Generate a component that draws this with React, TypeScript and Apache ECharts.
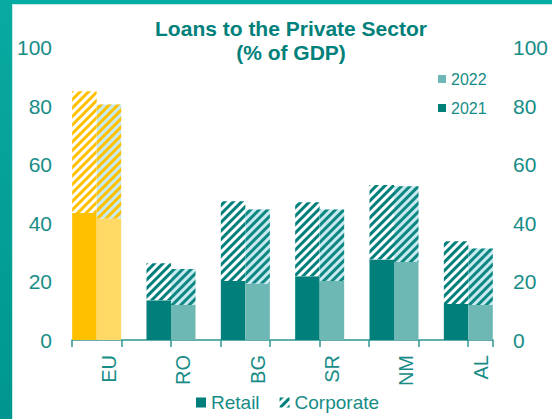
import React, { useEffect, useRef } from "react";
import * as echarts from "echarts";

const categories = ["EU", "RO", "BG", "SR", "NM", "AL"];
const retail2021 = [43.4, 13.6, 20.2, 21.8, 27.5, 12.3];
const corporate2021 = [41.6, 12.6, 27.2, 25.3, 25.5, 21.5];
const retail2022 = [41.5, 12.0, 19.3, 20.2, 26.7, 12.0];
const corporate2022 = [39.0, 12.3, 25.3, 24.4, 25.9, 19.3];
const yTicks = [0, 20, 40, 60, 80, 100];

const TEAL = "#007F7B";
const TEAL_LIGHT = "#6DB8B4";
const CYAN_BG = "#C6EAF0";
const YELLOW = "#FFC000";
const YELLOW_LIGHT = "#FFD966";
const TEXT = "#178C87";
const FONT = "'Liberation Sans', Arial, sans-serif";

const stripe = (c: string) => ({
  symbol: "rect",
  symbolSize: 1,
  symbolKeepAspect: false,
  dashArrayX: [1, 0],
  dashArrayY: [2.3, 2.2],
  rotation: -Math.PI / 4,
  color: c,
});

export default function App() {
  const ref = useRef<HTMLDivElement>(null);
  useEffect(() => {
    if (!ref.current) return;
    const chart = echarts.init(ref.current, null, { renderer: "svg" });
    const gTop = 47.5;
    const gBottom = 79;
    const retailItems = (vals: number[], eu: string) =>
      vals.map((v, i) => (i === 0 ? { value: v, itemStyle: { color: eu } } : v));
    const corpItems = (vals: number[], bg: string) =>
      vals.map((v, i) =>
        i === 0 ? { value: v, itemStyle: { color: bg, decal: stripe(YELLOW) } } : v
      );
    chart.setOption({
      animation: false,
      backgroundColor: "#ffffff",
      textStyle: { fontFamily: FONT },
      title: {
        text: "Loans to the Private Sector\n(% of GDP)",
        left: 291,
        top: 16,
        padding: 0,
        textAlign: "center",
        textStyle: {
          fontFamily: FONT,
          fontSize: 21,
          fontWeight: "bold",
          color: "#00807B",
          lineHeight: 24,
        },
      },
      graphic: [
        { type: "rect", left: 0, top: 0, shape: { width: 552, height: 4 }, style: { fill: "#06ADA4" }, z: 100 },
        { type: "rect", left: 0, top: 4, shape: { width: 552, height: 1 }, style: { fill: "#BFEAE6" }, z: 100 },
        {
          type: "rect", left: 0, top: 0, shape: { width: 12, height: 419 },
          style: {
            fill: new echarts.graphic.LinearGradient(0, 0, 0, 1, [
              { offset: 0, color: "#08AAA1" },
              { offset: 1, color: "#00968F" },
            ]),
          },
          z: 100,
        },
        { type: "rect", left: 12, top: 4, shape: { width: 1, height: 415 }, style: { fill: "#BFEAE6" }, z: 100 },
      ],
      legend: [
        {
          data: ["2022", "2021"],
          orient: "vertical",
          left: 438,
          top: 71,
          padding: 0,
          itemWidth: 8,
          itemHeight: 8,
          itemGap: 13,
          icon: "rect",
          textStyle: { fontFamily: FONT, fontSize: 16, color: TEXT },
        },
        {
          data: ["Retail", "Corporate"],
          orient: "horizontal",
          left: 196,
          top: 393,
          padding: 0,
          itemWidth: 10,
          itemHeight: 10,
          itemGap: 20,
          icon: "rect",
          textStyle: { fontFamily: FONT, fontSize: 19, color: TEXT },
        },
      ],
      grid: [
        { left: 59.5, right: 46.5, top: gTop, bottom: gBottom, outerBoundsMode: "none" },
        { left: 72, right: 59, top: gTop, bottom: gBottom, outerBoundsMode: "none" },
        { left: 71.75, width: 446, top: gTop, bottom: gBottom, outerBoundsMode: "none" },
      ],
      xAxis: [
        {
          gridIndex: 0,
          type: "category",
          data: categories,
          axisLine: { show: false },
          axisTick: { show: false },
          axisLabel: { show: false },
        },
        {
          gridIndex: 1,
          type: "value",
          min: 0,
          max: 8.505,
          interval: 1,
          axisLine: { show: true, lineStyle: { color: "#2E9792", width: 1.5 } },
          axisTick: { show: true, length: 7, lineStyle: { color: "#2E9792", width: 1.5 } },
          axisLabel: { show: false },
          splitLine: { show: false },
        },
        {
          gridIndex: 2,
          type: "category",
          data: categories,
          axisLine: { show: false },
          axisTick: { show: false },
          axisLabel: {
            rotate: 90,
            interval: 0,
            margin: 15,
            fontFamily: FONT,
            fontSize: 20,
            color: TEXT,
          },
        },
      ],
      yAxis: [
        {
          gridIndex: 0,
          type: "value",
          position: "left",
          min: yTicks[0],
          max: yTicks[yTicks.length - 1],
          interval: 20,
          axisLine: { show: false },
          axisTick: { show: false },
          splitLine: { show: false },
          axisLabel: { margin: 7.5, fontFamily: FONT, fontSize: 21, color: TEXT },
        },
        {
          gridIndex: 0,
          type: "value",
          position: "right",
          min: yTicks[0],
          max: yTicks[yTicks.length - 1],
          interval: 20,
          axisLine: { show: false },
          axisTick: { show: false },
          splitLine: { show: false },
          axisLabel: { margin: 7.5, fontFamily: FONT, fontSize: 21, color: TEXT },
        },
        { gridIndex: 1, type: "value", min: 0, max: 100, show: false },
        { gridIndex: 2, type: "value", min: 0, max: 100, show: false },
      ],
      series: [
        {
          name: "Retail",
          type: "bar",
          stack: "a",
          xAxisIndex: 0,
          yAxisIndex: 0,
          barWidth: 24.5,
          barGap: "0%",
          itemStyle: { color: TEAL },
          data: retailItems(retail2021, YELLOW),
        },
        {
          name: "Corporate",
          type: "bar",
          stack: "a",
          xAxisIndex: 0,
          yAxisIndex: 0,
          barWidth: 24.5,
          barGap: "0%",
          itemStyle: { color: "#FFFFFF", decal: stripe(TEAL) },
          data: corpItems(corporate2021, "#FFFFFF"),
        },
        {
          name: "Retail",
          type: "bar",
          stack: "b",
          xAxisIndex: 0,
          yAxisIndex: 0,
          barWidth: 24.5,
          barGap: "0%",
          itemStyle: { color: TEAL_LIGHT },
          data: retailItems(retail2022, YELLOW_LIGHT),
        },
        {
          name: "Corporate",
          type: "bar",
          stack: "b",
          xAxisIndex: 0,
          yAxisIndex: 0,
          barWidth: 24.5,
          barGap: "0%",
          itemStyle: { color: CYAN_BG, decal: stripe("#0E8782") },
          data: corpItems(corporate2022, CYAN_BG),
        },
        {
          name: "2022",
          type: "bar",
          stack: "b",
          xAxisIndex: 0,
          yAxisIndex: 0,
          itemStyle: { color: TEAL_LIGHT },
          data: [],
        },
        {
          name: "2021",
          type: "bar",
          stack: "a",
          xAxisIndex: 0,
          yAxisIndex: 0,
          itemStyle: { color: TEAL },
          data: [],
        },
      ],
    });
    return () => chart.dispose();
  }, []);
  return (
    <div
      ref={ref}
      style={{ position: "fixed", left: 0, top: 0, width: 552, height: 419 }}
    />
  );
}
